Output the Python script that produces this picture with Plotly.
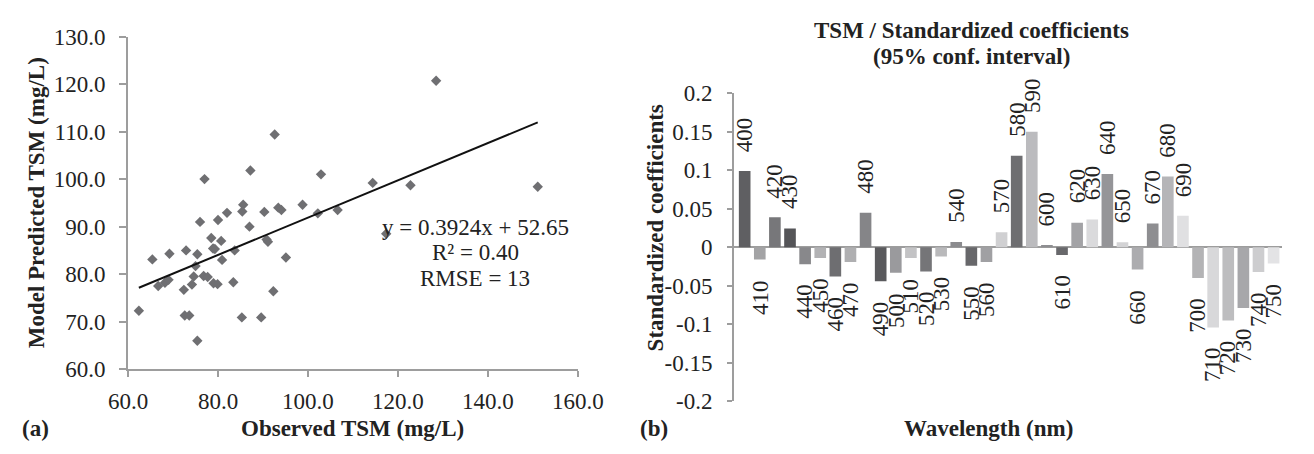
import plotly.graph_objects as go

# ---------------- data: panel (a) ----------------
observed_tsm = [62.4, 65.4, 66.7, 68.2, 69.0, 69.2, 72.4, 72.6, 73.6, 72.9,
                74.2, 74.6, 75.0, 75.4, 75.4, 76.0, 76.8, 77.7, 77.0, 78.5,
                78.9, 79.3, 79.0, 79.9, 80.0, 80.7, 80.9, 82.0, 83.4, 83.7,
                85.4, 85.6, 85.3, 87.0, 87.2, 89.6, 90.3, 90.8, 91.1, 92.3,
                92.6, 93.4, 94.1, 95.1, 98.8, 102.2, 102.9, 106.6, 114.4, 117.4,
                122.8, 128.5, 151.1]
predicted_tsm = [72.3, 83.1, 77.5, 78.2, 78.8, 84.3, 76.7, 71.3, 71.3, 85.0,
                 77.8, 79.5, 81.7, 84.2, 66.0, 91.0, 79.6, 79.4, 100.0, 87.6,
                 85.4, 85.3, 78.1, 77.9, 91.4, 87.0, 83.0, 92.9, 78.3, 85.0,
                 93.2, 94.6, 70.9, 90.0, 101.8, 70.9, 93.1, 87.3, 86.8, 76.4,
                 109.4, 94.0, 93.5, 83.5, 94.6, 92.8, 101.0, 93.5, 99.2, 88.5,
                 98.7, 120.7, 98.4]
fit_slope = 0.3924
fit_intercept = 52.65
fit_text = ["y = 0.3924x + 52.65", "R² = 0.40", "RMSE = 13"]

# ---------------- data: panel (b) ----------------
wavelengths = [400, 410, 420, 430, 440, 450, 460, 470, 480, 490, 500, 510,
               520, 530, 540, 550, 560, 570, 580, 590, 600, 610, 620, 630,
               640, 650, 660, 670, 680, 690, 700, 710, 720, 730, 740, 750]
std_coefficients = [0.099, -0.016, 0.039, 0.0245, -0.022, -0.014, -0.038, -0.019,
                    0.045, -0.044, -0.033, -0.014, -0.0315, -0.012, 0.007, -0.024,
                    -0.019, 0.0196, 0.119, 0.150, 0.003, -0.010, 0.032, 0.036,
                    0.095, 0.0065, -0.029, 0.031, 0.092, 0.041, -0.040, -0.104,
                    -0.095, -0.079, -0.032, -0.021]
bar_colors = ["#5f5f62", "#a3a3a5", "#77777a", "#555558", "#88888b", "#b2b2b4",
              "#6e6e71", "#afafb1", "#858588", "#5a5a5d", "#9a9a9d", "#c3c3c5",
              "#757578", "#b9b9bb", "#8b8b8e", "#67676a", "#a0a0a3", "#d0d0d2",
              "#6e6e71", "#bbbbbe", "#8e8e91", "#68686b", "#a3a3a6", "#dadadc",
              "#959598", "#d3d3d5", "#acacaf", "#8e8e91", "#b5b5b8", "#e0e0e2",
              "#b3b3b5", "#d8d8da", "#bdbdbf", "#a7a7aa", "#cdcdcf", "#e3e3e5"]
b_tickvals = [0.2, 0.15, 0.1, 0.05, 0, -0.05, -0.1, -0.15, -0.2]
b_ticktext = ["0.2", "0.15", "0.1", "0.05", "0", "-0.05", "-0.1", "-0.15", "-0.2"]

# ---------------- figure ----------------
W, H = 1314, 454
FONT = "Liberation Serif, Times New Roman, serif"
AXC = "#9d9d9d"
TXT = "#222222"


def px(x):
    return x / W


def py(y):
    return 1 - y / H


fig = go.Figure()

fig.add_trace(go.Scatter(
    x=observed_tsm, y=predicted_tsm, mode="markers",
    marker=dict(symbol="diamond", size=8, color="#6f6f72", line=dict(width=0)),
    xaxis="x", yaxis="y", showlegend=False, hoverinfo="x+y"))

x_fit = [min(observed_tsm), max(observed_tsm)]
y_fit = [fit_slope * v + fit_intercept for v in x_fit]
fig.add_trace(go.Scatter(
    x=x_fit, y=y_fit, mode="lines", line=dict(color="#111111", width=2),
    xaxis="x", yaxis="y", showlegend=False, hoverinfo="skip"))

fig.add_trace(go.Bar(
    x=wavelengths, y=std_coefficients, marker=dict(color=bar_colors, line=dict(width=0)),
    width=7.7, xaxis="x2", yaxis="y2", showlegend=False))

annotations = []
for wl, v in zip(wavelengths, std_coefficients):
    pos = v >= 0
    annotations.append(dict(
        x=wl, y=v, xref="x2", yref="y2", text=str(wl), showarrow=False,
        textangle=-90, xanchor="center", yanchor="bottom" if pos else "top",
        yshift=17 if pos else -18, font=dict(family=FONT, size=23, color=TXT)))

for i, t in enumerate(fit_text):
    annotations.append(dict(
        x=px(472), y=py(228 + 27 * i), xref="paper", yref="paper", text=t,
        showarrow=False, xanchor="center", yanchor="middle",
        font=dict(family=FONT, size=23, color=TXT)))

bold = dict(family=FONT, size=23, color=TXT)
annotations += [
    dict(x=px(345), y=py(441), text="<b>Observed TSM (mg/L)</b>"),
    dict(x=px(17), y=py(202), text="<b>Model Predicted TSM (mg/L)</b>", textangle=-90),
    dict(x=px(16), y=py(441), text="<b>(a)</b>"),
    dict(x=px(657), y=py(441), text="<b>(b)</b>"),
    dict(x=px(1004), y=py(441), text="<b>Wavelength (nm)</b>"),
    dict(x=px(658), y=py(228), text="<b>Standardized coefficients</b>", textangle=-90),
    dict(x=px(986), y=py(20), text="<b>TSM / Standardized coefficients</b>"),
    dict(x=px(986), y=py(47), text="<b>(95% conf. interval)</b>"),
]
for a in annotations[-8:]:
    a.update(xref="paper", yref="paper", showarrow=False, xanchor="center",
             yanchor="middle", font=bold)

tickfont = dict(family=FONT, size=23, color=TXT)
fig.update_layout(
    width=W, height=H, margin=dict(l=0, r=0, t=0, b=0),
    paper_bgcolor="white", plot_bgcolor="white", showlegend=False,
    xaxis=dict(domain=[px(112), px(578)], range=[60, 160], dtick=20, tick0=60,
               tickformat=".1f", showline=True, linecolor=AXC, linewidth=2,
               ticks="outside", ticklen=6, tickwidth=2, tickcolor=AXC,
               ticklabelstandoff=4,
               showgrid=False, zeroline=False, tickfont=tickfont,
               anchor="y", fixedrange=True),
    yaxis=dict(domain=[py(378), py(26)], range=[60, 130], dtick=10, tick0=60,
               tickformat=".1f", showline=True, linecolor=AXC, linewidth=2,
               ticks="outside", ticklen=7, tickwidth=2, tickcolor=AXC,
               ticklabelstandoff=9,
               showgrid=False, zeroline=False, tickfont=tickfont,
               anchor="x", fixedrange=True),
    xaxis2=dict(domain=[px(740), px(1308)], range=[393, 755.7], showline=False,
                showticklabels=False, ticks="", showgrid=False, zeroline=False,
                anchor="y2", fixedrange=True),
    yaxis2=dict(domain=[py(412), py(86)], range=[-0.2, 0.2],
                tickvals=b_tickvals, ticktext=b_ticktext,
                showline=True, linecolor=AXC, linewidth=2,
                ticks="outside", ticklen=5, tickwidth=2, tickcolor=AXC,
                ticklabelstandoff=10,
                showgrid=False, zeroline=True, zerolinecolor=AXC, zerolinewidth=2,
                tickfont=tickfont, anchor="x2", fixedrange=True),
    yaxis3=dict(domain=[py(412), py(86)], range=[-0.2, 0.2], overlaying="y2",
                anchor="x2", tickvals=b_tickvals, showticklabels=False,
                ticks="inside", ticklen=7, tickwidth=2, tickcolor=AXC,
                showline=False, showgrid=False, zeroline=False, fixedrange=True),
    annotations=annotations,
)

fig.write_html("out.html")
